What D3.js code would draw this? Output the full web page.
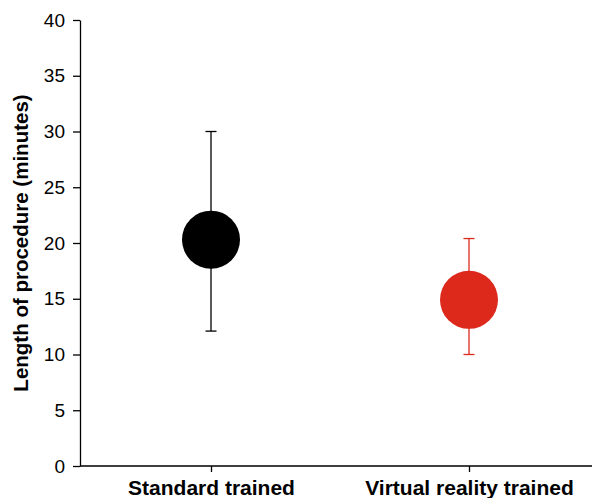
<!DOCTYPE html>
<html><head><meta charset="utf-8">
<script src="https://cdn.jsdelivr.net/npm/d3@7"></script>
<style>body{margin:0;background:#fff}svg{display:block}</style>
</head><body>
<svg id="c" width="592" height="498"></svg>
<script>
const categories = ["Standard trained", "Virtual reality trained"];
const means = [20.3, 14.9];
const lower = [12.1, 10.0];
const upper = [30.0, 20.4];
const colors = ["#000000", "#dc291c"];
const yTicks = [0, 5, 10, 15, 20, 25, 30, 35, 40];
const yLabel = "Length of procedure (minutes)";

const svg = d3.select("#c");
const font = "'Liberation Sans', Arial, Helvetica, sans-serif";
const y = d3.scaleLinear().domain([0, 40]).range([466, 20]);
const x = d3.scalePoint().domain(categories).range([211, 469]);

const yAxis = svg.append("g").attr("transform", "translate(80,0)")
  .call(d3.axisLeft(y).tickValues(yTicks).tickSize(7).tickPadding(8).tickSizeOuter(0));
yAxis.select(".domain").attr("stroke", "#000").attr("stroke-width", 1.3);
yAxis.selectAll(".tick line").attr("stroke", "#000").attr("stroke-width", 1.3);
yAxis.selectAll(".tick text").attr("font-family", font).attr("font-size", 19).attr("fill", "#000");

const xAxis = svg.append("g").attr("transform", "translate(0,466)");
xAxis.append("line").attr("x1", 80).attr("x2", 592).attr("stroke", "#000").attr("stroke-width", 1.3);
const xa = xAxis.call(d3.axisBottom(x).tickSize(6).tickPadding(10).tickSizeOuter(0));
xa.select(".domain").remove();
xa.selectAll(".tick line").attr("stroke", "#000").attr("stroke-width", 1.3);
xa.selectAll(".tick text").attr("font-family", font).attr("font-size", 21)
  .attr("font-weight", "bold").attr("fill", "#000").attr("dy", null).attr("y", 29);

svg.append("text").attr("transform", "translate(28,243) rotate(-90)")
  .attr("text-anchor", "middle").attr("font-family", font).attr("font-size", 20.5)
  .attr("font-weight", "bold").text(yLabel);

const g = svg.selectAll(".pt").data(categories).enter().append("g");
g.append("line").attr("x1", d => x(d)).attr("x2", d => x(d))
  .attr("y1", (d, i) => y(upper[i])).attr("y2", (d, i) => y(lower[i]))
  .attr("stroke", (d, i) => colors[i]).attr("stroke-width", 1.3);
[upper, lower].forEach(arr => {
  g.append("line").attr("x1", d => x(d) - 5.5).attr("x2", d => x(d) + 5.5)
    .attr("y1", (d, i) => y(arr[i])).attr("y2", (d, i) => y(arr[i]))
    .attr("stroke", (d, i) => colors[i]).attr("stroke-width", 1.3);
});
g.append("circle").attr("cx", d => x(d)).attr("cy", (d, i) => y(means[i]))
  .attr("r", 29).attr("fill", (d, i) => colors[i]);
</script>
</body></html>
